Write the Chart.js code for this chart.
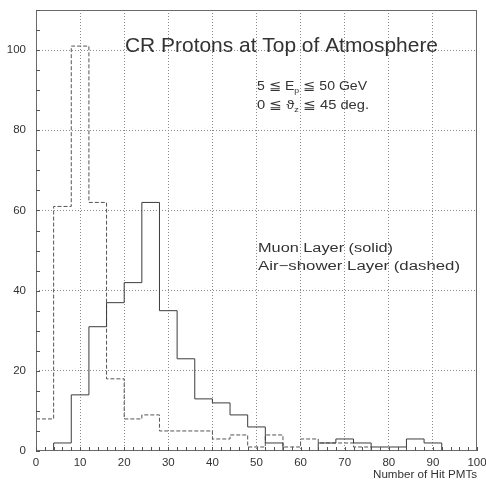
<!DOCTYPE html>
<html>
<head>
<meta charset="utf-8">
<script src="https://cdn.jsdelivr.net/npm/chart.js@4/dist/chart.umd.min.js"></script>
<style>
  html, body { margin: 0; padding: 0; background: #fff; }
  #wrap { width: 486px; height: 481px; }
</style>
</head>
<body>
<div id="wrap"><canvas id="c" width="486" height="481"></canvas></div>
<script>
// ---- data ----
const binEdges = [0,4,8,12,16,20,24,28,32,36,40,44,48,52,56,60,64,68,72,76,80,84,88,92,96,100];
const muonCounts = [0,2,14,31,37,42,62,35,23,13,12,9,6,2,0,0,2,3,2,1,1,3,2,0,0];
const airShowerCounts = [8,61,101,62,18,8,9,5,5,5,3,4,1,4,1,3,2,2,1,0,0,0,0,0,0];
const xTickValues = [0,10,20,30,40,50,60,70,80,90,100];
const yTickValues = [0,20,40,60,80,100];
const xAxisTitle = "Number of Hit PMTs";
const plotTitle = "CR Protons at Top of Atmosphere";
const muonLabel = "Muon Layer (solid)";
const airLabel = "Air\u2212shower Layer (dashed)";

function stepPoints(counts) {
  return binEdges.map((e, i) => ({ x: e, y: i < counts.length ? counts[i] : counts[counts.length - 1] }));
}

const LINE = '#3c3c3c';
const FONT = '"Liberation Sans", Arial, sans-serif';

function drawFit(ctx, parts, x, y, size, targetW, color) {
  ctx.save();
  let w = 0;
  const segs = parts.map(p => {
    const s = p.sub ? size * 0.62 : size;
    ctx.font = s + 'px ' + FONT;
    const mw = ctx.measureText(p.t).width;
    const seg = { t: p.t, s, dx: w, dy: p.sub ? size * 0.22 : 0, mw };
    w += mw;
    return seg;
  });
  const sx = targetW ? targetW / w : 1;
  ctx.translate(x, y);
  ctx.scale(sx, 1);
  ctx.fillStyle = color || '#333';
  ctx.textBaseline = 'alphabetic';
  ctx.textAlign = 'left';
  segs.forEach(sg => {
    ctx.font = sg.s + 'px ' + FONT;
    ctx.fillText(sg.t, sg.dx, sg.dy);
  });
  ctx.restore();
}

const decor = {
  id: 'decor',
  afterDraw(chart) {
    const { ctx, chartArea: a, scales: { x, y } } = chart;
    ctx.save();
    ctx.strokeStyle = '#6a6a6a';
    ctx.lineWidth = 1;
    ctx.setLineDash([]);
    ctx.strokeRect(Math.round(a.left) + 0.5, Math.round(a.top) + 0.5,
                   Math.round(a.right - a.left) - 1, Math.round(a.bottom - a.top) - 1);
    ctx.strokeStyle = '#555';
    ctx.beginPath();
    for (let v = 0; v <= 100; v += 2) {
      const px = Math.round(x.getPixelForValue(v)) + 0.5;
      ctx.moveTo(px, a.bottom);
      ctx.lineTo(px, a.bottom - 4);
    }
    for (let v = 0; v <= 110; v += 5) {
      const py = Math.round(y.getPixelForValue(v)) + 0.5;
      ctx.moveTo(a.left, py);
      ctx.lineTo(a.left + 4, py);
    }
    ctx.stroke();
    ctx.restore();

    drawFit(ctx, [{ t: plotTitle }], 125, 52, 21, 313);
    drawFit(ctx, [{ t: '5 \u2266 E' }, { t: 'p', sub: true }, { t: ' \u2266 50 GeV' }], 257, 90, 12.5, 110);
    drawFit(ctx, [{ t: '0 \u2266 \u03D1' }, { t: 'z', sub: true }, { t: ' \u2266 45 deg.' }], 257, 109, 12.5, 112);
    drawFit(ctx, [{ t: muonLabel }], 258, 252, 12.5, 135);
    drawFit(ctx, [{ t: airLabel }], 258, 270, 12.5, 202);
    drawFit(ctx, [{ t: xAxisTitle }], 373, 478, 10, 104);
  }
};

new Chart(document.getElementById('c'), {
  type: 'line',
  data: {
    datasets: [
      {
        label: 'Muon Layer (solid)',
        data: stepPoints(muonCounts),
        stepped: 'before',
        borderColor: LINE,
        borderWidth: 1,
        pointRadius: 0,
        fill: false
      },
      {
        label: 'Air-shower Layer (dashed)',
        data: stepPoints(airShowerCounts),
        stepped: 'before',
        borderColor: '#555',
        borderWidth: 1,
        borderDash: [4, 2],
        pointRadius: 0,
        fill: false
      }
    ]
  },
  options: {
    responsive: false,
    animation: false,
    events: [],
    layout: { padding: { left: 0, top: 10, right: 9, bottom: 0 } },
    plugins: { legend: { display: false }, tooltip: { enabled: false }, title: { display: false } },
    scales: {
      x: {
        type: 'linear',
        min: 0, max: 100,
        afterBuildTicks: s => { s.ticks = xTickValues.map(v => ({ value: v })); },
        afterFit: s => { s.height = 30; s.paddingLeft = 0; s.paddingRight = 0; },
        grid: {
          drawTicks: false,
          color: c => (c.tick && (c.tick.value === 0 || c.tick.value === 100)) ? 'rgba(0,0,0,0)' : '#8a8a8a',
          lineWidth: 1
        },
        border: { display: false, dash: [1, 2] },
        ticks: {
          padding: 5,
          color: '#333',
          font: { family: '"Liberation Sans", Arial, sans-serif', size: 11.5 },
          maxRotation: 0,
          autoSkip: false
        }
      },
      y: {
        type: 'linear',
        min: 0, max: 110,
        afterBuildTicks: s => { s.ticks = yTickValues.map(v => ({ value: v })); },
        afterFit: s => { s.width = 36; s.paddingTop = 0; s.paddingBottom = 0; },
        grid: {
          drawTicks: false,
          color: c => (c.tick && c.tick.value === 0) ? 'rgba(0,0,0,0)' : '#8a8a8a',
          lineWidth: 1
        },
        border: { display: false, dash: [1, 2] },
        ticks: {
          padding: 10,
          color: '#333',
          font: { family: '"Liberation Sans", Arial, sans-serif', size: 11.5 }
        }
      }
    }
  },
  plugins: [decor]
});
</script>
</body>
</html>
